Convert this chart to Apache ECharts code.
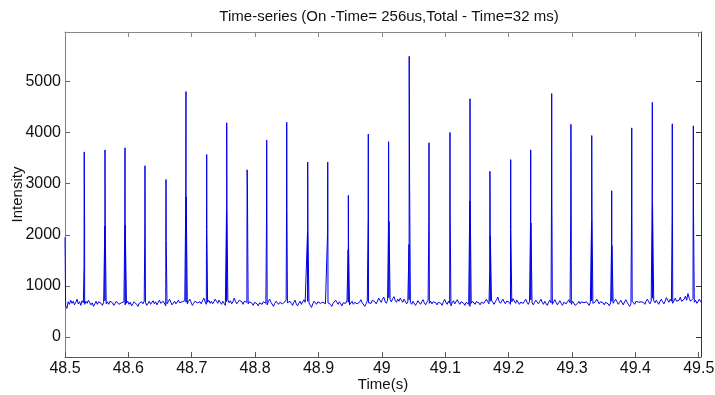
<!DOCTYPE html>
<html><head><meta charset="utf-8">
<script src="https://cdn.jsdelivr.net/npm/echarts@6/dist/echarts.min.js"></script>
<style>html,body{margin:0;padding:0;background:#fff}#c{width:715px;height:395px}</style>
</head><body><div id="c"></div>
<script>
// ---------- data ----------
const titleText = 'Time-series (On -Time= 256us,Total - Time=32 ms)';
const xName = 'Time(s)';
const yName = 'Intensity';
const xTicks = [48.5, 48.6, 48.7, 48.8, 48.9, 49.0, 49.1, 49.2, 49.3, 49.4, 49.5];
const yTicks = [0, 1000, 2000, 3000, 4000, 5000];

// baseline samples (2 ms apart, starting at 48.501 s)
const baselineStart = 48.501;
const baselineStep = 0.002;
const baseline = [
 610,560,690,640,720,660,700,630,680,740,650,690,620,710,670,640,700,660,720,690,630,670,600,650,
 700,640,690,720,660,620,680,710,650,690,640,700,730,670,620,660,700,680,640,610,670,650,690,630,
 660,700,640,680,610,650,690,720,640,600,660,630,690,650,700,680,620,660,700,640,670,710,650,690,
 630,680,720,660,640,700,670,610,650,690,740,680,630,660,700,650,680,720,670,640,690,660,710,680,
 650,700,740,680,620,660,700,730,670,640,690,650,710,760,690,640,680,720,660,700,650,690,740,700,
 660,720,680,640,700,660,620,690,730,670,710,650,690,760,700,650,680,720,740,690,640,700,730,680,
 650,690,720,660,620,680,700,650,610,670,700,640,690,720,660,630,700,740,680,650,600,660,700,690,
 640,680,710,650,620,690,730,670,640,700,660,620,680,720,650,610,660,700,640,690,730,680,650,700,
 670,620,580,650,700,680,640,690,720,660,630,680,710,650,620,670,700,640,600,660,690,720,680,640,
 690,650,610,670,700,660,720,680,630,660,700,640,680,710,650,620,690,730,670,640,600,650,700,670,
 700,660,720,740,690,650,700,760,720,680,740,780,700,660,720,770,730,690,750,790,720,680,740,700,
 760,720,680,740,700,650,690,730,680,640,700,670,620,660,710,680,640,690,730,670,630,680,720,660,
 700,650,690,720,670,630,680,710,660,620,690,740,680,640,700,660,610,670,710,650,690,730,680,640,
 690,720,660,620,680,700,640,600,660,700,680,640,690,720,670,630,680,710,660,700,740,690,650,700,
 720,680,640,690,730,780,700,660,700,740,690,650,700,720,680,640,690,750,700,660,720,690,640,680,
 710,660,700,740,680,640,690,730,670,630,680,720,700,650,690,740,680,640,700,660,620,680,720,670,
 640,690,730,680,630,670,710,660,620,680,700,650,690,730,670,640,700,680,620,600,660,700,650,690,
 720,670,640,690,660,620,680,710,660,630,690,740,700,650,690,720,670,630,680,700,650,610,670,700,
 660,700,740,690,640,680,720,670,630,690,730,680,640,600,650,700,680,640,700,730,680,650,690,720,
 680,640,700,740,690,650,700,760,710,670,720,690,640,700,740,690,650,700,770,720,680,740,700,660,
 710,760,700,670,720,780,700,680,740,800,720,850,760,700,690,750,680,720,660,700,740,690,710,680
];

// pulse spikes: time (s) and the samples inside each pulse
const spikeTimes = [
 48.5000, 48.5305, 48.5631, 48.5947, 48.6262, 48.6594, 48.6909, 48.7236, 48.7552, 48.7877,
 48.8183, 48.8499, 48.8830, 48.9146, 48.9471, 48.9786, 49.0108, 49.0433, 49.0744, 49.1075,
 49.1391, 49.1707, 49.2033, 49.2349, 49.2680, 49.2985, 49.3312, 49.3627, 49.3943, 49.4268,
 49.4583, 49.4915
];
const spikeValues = [
 [1950],
 [1400, 3620, 2880, 2160],
 [2170, 3660, 2170],
 [2190, 3700, 2190],
 [2000, 3350, 2280],
 [1890, 3080, 1890],
 [2740, 4800, 2740],
 [2100, 3570, 2100],
 [2480, 4190, 2480],
 [1610, 3270, 3080, 2720, 2000],
 [2310, 3850, 2310],
 [2490, 4200, 2490],
 [2060, 3420, 2060],
 [2040, 3420, 2040],
 [1710, 2770, 1830],
 [2330, 3970, 2330],
 [2100, 3820, 2490, 2260],
 [1810, 5490, 4260, 3080],
 [2260, 3800, 2260],
 [2300, 4000, 2390],
 [2660, 4660, 2660],
 [1260, 3240, 2520, 1980],
 [2100, 3470, 2100],
 [2230, 3660, 2230],
 [2720, 4760, 2720],
 [2420, 4160, 3270, 1480],
 [2260, 3940, 2520],
 [1790, 2860, 1790],
 [2380, 4090, 2380],
 [2600, 4590, 2600],
 [2430, 4170, 2430],
 [2390, 4130, 2390]
];
const spikeSubStep = 0.0003;

// ---------- build series ----------
const pts = [];
baseline.forEach((v, i) => pts.push([baselineStart + i * baselineStep, v]));
spikeTimes.forEach((t, k) => {
  const vals = spikeValues[k];
  const n = vals.length;
  vals.forEach((v, j) => {
    let tt = t + (j - (n - 1) / 2) * spikeSubStep;
    if (k === 0) tt = t;
    pts.push([tt, v]);
  });
});
pts.sort((a, b) => a[0] - b[0]);

const FONT = "'Liberation Sans', Arial, Helvetica, sans-serif";
const xMin = 48.5, xMax = 49.5036, yMin = -390, yMax = 5965;

const chart = echarts.init(document.getElementById('c'), null, {renderer: 'canvas'});
chart.setOption({
  animation: false,
  backgroundColor: '#ffffff',
  title: {
    text: titleText,
    left: 384, top: 4, textAlign: 'center',
    textStyle: {fontFamily: FONT, fontSize: 15, fontWeight: 'normal', color: '#111'}
  },
  grid: {left: 65, right: 14, top: 32, bottom: 38, containLabel: false, outerBoundsMode: 'none'},
  xAxis: [{
    type: 'value', min: xMin, max: xMax, position: 'bottom',
    name: xName, nameLocation: 'middle', nameGap: 20, nameMoveOverlap: false,
    nameTextStyle: {fontFamily: FONT, fontSize: 15, color: '#111'},
    axisLine: {show: true, onZero: false, lineStyle: {color: '#555', width: 1}},
    axisTick: {show: true, inside: true, length: 5, customValues: xTicks, lineStyle: {color: '#555'}},
    axisLabel: {show: true, customValues: xTicks, margin: 4, fontFamily: FONT, fontSize: 16, color: '#111',
      formatter: v => String(Math.round(v * 10) / 10)},
    splitLine: {show: false}
  }, {
    type: 'value', min: xMin, max: xMax, position: 'top',
    axisLine: {show: true, onZero: false, lineStyle: {color: '#888', width: 1}},
    axisTick: {show: true, inside: true, length: 5, customValues: xTicks, lineStyle: {color: '#888'}},
    axisLabel: {show: false}, splitLine: {show: false}
  }],
  yAxis: [{
    type: 'value', min: yMin, max: yMax, position: 'left',
    name: yName, nameLocation: 'middle', nameGap: 40, nameRotate: 90, nameMoveOverlap: false,
    nameTextStyle: {fontFamily: FONT, fontSize: 15, color: '#111'},
    axisLine: {show: true, onZero: false, lineStyle: {color: '#808080', width: 1}},
    axisTick: {show: true, inside: true, length: 5, customValues: yTicks, lineStyle: {color: '#666'}},
    axisLabel: {show: true, customValues: yTicks, margin: 4, fontFamily: FONT, fontSize: 16, color: '#111',
      formatter: v => String(Math.round(v))},
    splitLine: {show: false}
  }, {
    type: 'value', min: yMin, max: yMax, position: 'right',
    axisLine: {show: true, onZero: false, lineStyle: {color: '#333', width: 1}},
    axisTick: {show: true, inside: true, length: 5, customValues: yTicks, lineStyle: {color: '#333'}},
    axisLabel: {show: false}, splitLine: {show: false}
  }],
  series: [{
    type: 'line', xAxisIndex: 0, yAxisIndex: 0,
    data: pts, showSymbol: false, symbol: 'none', sampling: null, clip: true,
    lineStyle: {color: '#0000e6', width: 1},
    emphasis: {disabled: true}
  }]
});
</script>
</body></html>
